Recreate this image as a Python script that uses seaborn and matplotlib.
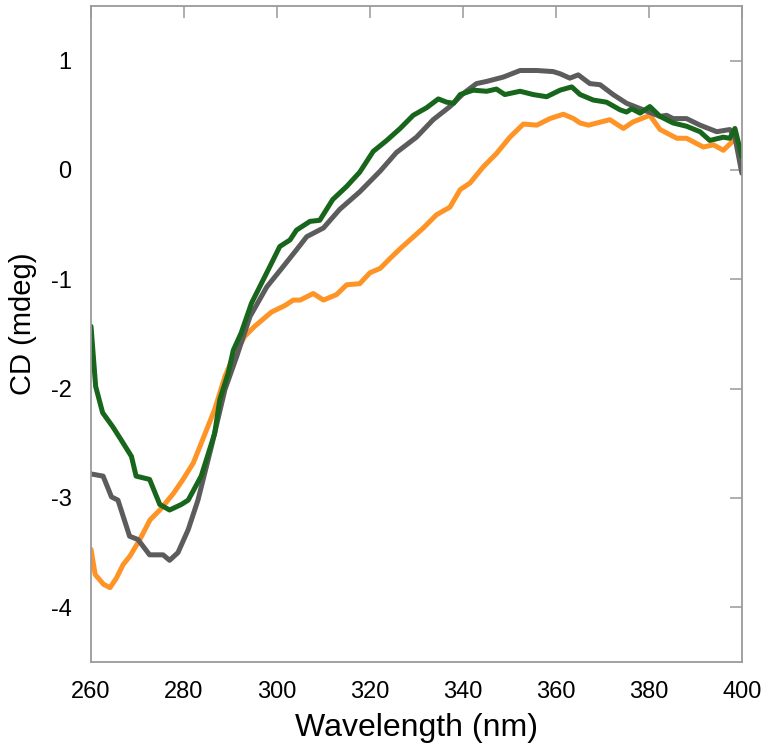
import matplotlib
matplotlib.use("Agg")
import matplotlib.pyplot as plt
import seaborn as sns
import pandas as pd

# CD spectra (wavelength in nm, CD in mdeg)
green_wl = [260, 261, 262.5, 264.7, 266.5, 268.7, 269.7, 272.6, 274.8, 276.9, 279.4, 280.9,
            283.7, 286.6, 287.7, 289.5, 290.6, 292.3, 294.5, 297.8, 300.6, 302.8, 304.2, 307.1,
            309.2, 312, 315, 317.8, 320.7, 323.6, 326.5, 329.3, 332.2, 334.7, 336.5, 338,
            339.4, 342.2, 345.1, 347.2, 349, 352.3, 355.1, 358, 360.9, 363.4, 365.2, 368,
            370.9, 373.8, 375.2, 376.3, 378.1, 380.2, 382.4, 385.2, 388.1, 391, 393.1, 396,
            397.4, 398.5, 400]
green_cd = [-1.43, -1.98, -2.22, -2.35, -2.47, -2.62, -2.80, -2.83, -3.06, -3.11, -3.06, -3.02,
            -2.80, -2.41, -2.10, -1.86, -1.65, -1.49, -1.22, -0.94, -0.70, -0.64, -0.55, -0.47,
            -0.46, -0.27, -0.15, -0.02, 0.17, 0.27, 0.38, 0.50, 0.57, 0.65, 0.62, 0.61,
            0.69, 0.73, 0.72, 0.74, 0.69, 0.72, 0.69, 0.67, 0.73, 0.76, 0.69, 0.64,
            0.62, 0.55, 0.53, 0.56, 0.52, 0.58, 0.49, 0.43, 0.40, 0.35, 0.27, 0.30,
            0.29, 0.38, 0.12]

gray_wl = [260, 262.6, 264.4, 265.8, 268.3, 270.1, 272.6, 275.5, 276.9, 278.7, 280.9, 283,
           285.9, 288.8, 291.3, 294.2, 297.8, 301.4, 304.2, 306.4, 310, 313.5, 317.8, 322.2,
           325.7, 330, 333.6, 337.2, 340.1, 342.9, 345.1, 348.7, 352.3, 355.9, 359.4, 360.9,
           363, 364.8, 367.3, 369.5, 372.3, 375.2, 378.8, 382.4, 383.8, 385.2, 388.1, 391,
           394.6, 397.4, 398.5, 400]
gray_cd = [-2.78, -2.80, -2.99, -3.02, -3.35, -3.38, -3.52, -3.52, -3.57, -3.50, -3.29, -3.02,
           -2.53, -2.01, -1.71, -1.34, -1.07, -0.88, -0.73, -0.61, -0.53, -0.36, -0.20, -0.01,
           0.16, 0.30, 0.46, 0.58, 0.70, 0.79, 0.81, 0.85, 0.91, 0.91, 0.90, 0.88,
           0.84, 0.87, 0.79, 0.78, 0.69, 0.61, 0.55, 0.49, 0.50, 0.47, 0.47, 0.41,
           0.35, 0.37, 0.30, -0.03]

orange_wl = [260, 260.9, 262.7, 264.1, 265.5, 266.9, 268.4, 270.5, 272.7, 274.8, 277.7, 279.8,
             282, 283.7, 286.6, 288.8, 290.9, 293.1, 295.2, 298.8, 301.7, 303.5, 305, 307.8,
             310, 312.8, 315, 317.8, 320, 322.2, 324.3, 326.5, 328.6, 331.5, 334.3, 337.2,
             339.4, 341.5, 344.4, 347.2, 350.1, 353, 355.9, 358.7, 361.6, 363.8, 365.2, 367,
             371.6, 374.5, 376.6, 380.2, 382.4, 386, 388.1, 391.7, 393.9, 396, 398.2, 400]
orange_cd = [-3.47, -3.70, -3.79, -3.82, -3.73, -3.61, -3.53, -3.38, -3.20, -3.11, -2.96, -2.83,
             -2.68, -2.50, -2.19, -1.89, -1.68, -1.52, -1.43, -1.30, -1.24, -1.19, -1.19, -1.13,
             -1.19, -1.14, -1.05, -1.04, -0.94, -0.90, -0.81, -0.72, -0.64, -0.53, -0.41, -0.34,
             -0.18, -0.12, 0.03, 0.15, 0.30, 0.42, 0.41, 0.47, 0.51, 0.47, 0.43, 0.41,
             0.46, 0.38, 0.44, 0.50, 0.37, 0.29, 0.29, 0.21, 0.23, 0.18, 0.27, 0.21]

x_ticks = [260, 280, 300, 320, 340, 360, 380, 400]
y_ticks = [-4, -3, -2, -1, 0, 1]

colors = {"orange": "#ff9426", "gray": "#5c5c5c", "green": "#17661c"}

df = pd.concat([
    pd.DataFrame({"wavelength": orange_wl, "cd": orange_cd, "sample": "orange"}),
    pd.DataFrame({"wavelength": gray_wl, "cd": gray_cd, "sample": "gray"}),
    pd.DataFrame({"wavelength": green_wl, "cd": green_cd, "sample": "green"}),
], ignore_index=True)

sns.set_style("white")
plt.rcParams["font.family"] = ["Liberation Sans", "DejaVu Sans"]
plt.rcParams["axes.unicode_minus"] = False
plt.rcParams["text.color"] = "black"
plt.rcParams["axes.labelcolor"] = "black"
plt.rcParams["xtick.labelcolor"] = "black"
plt.rcParams["ytick.labelcolor"] = "black"

fig = plt.figure(figsize=(7.68, 7.48), dpi=100)
ax = fig.add_axes([0.1185, 0.115, 0.8475, 0.877])

sns.lineplot(data=df, x="wavelength", y="cd", hue="sample", palette=colors,
             estimator=None, sort=False, linewidth=3.6, legend=False, ax=ax)

ax.set_xlim(260, 400)
ax.set_ylim(-4.5, 1.5)
ax.set_xticks(x_ticks)
ax.set_yticks(y_ticks)
ax.set_xlabel("Wavelength (nm)", fontsize=23, labelpad=7)
ax.set_ylabel("CD (mdeg)", fontsize=21)
ax.yaxis.set_label_coords(-0.083, 0.515)
ax.tick_params(direction="in", top=True, right=True, length=8.5, width=1.1,
               color="#999999", labelsize=17, pad=14)
for s in ax.spines.values():
    s.set_color("#9a9a9a")
    s.set_linewidth(1.3)

fig.savefig("out.png", dpi=100, facecolor="white")
